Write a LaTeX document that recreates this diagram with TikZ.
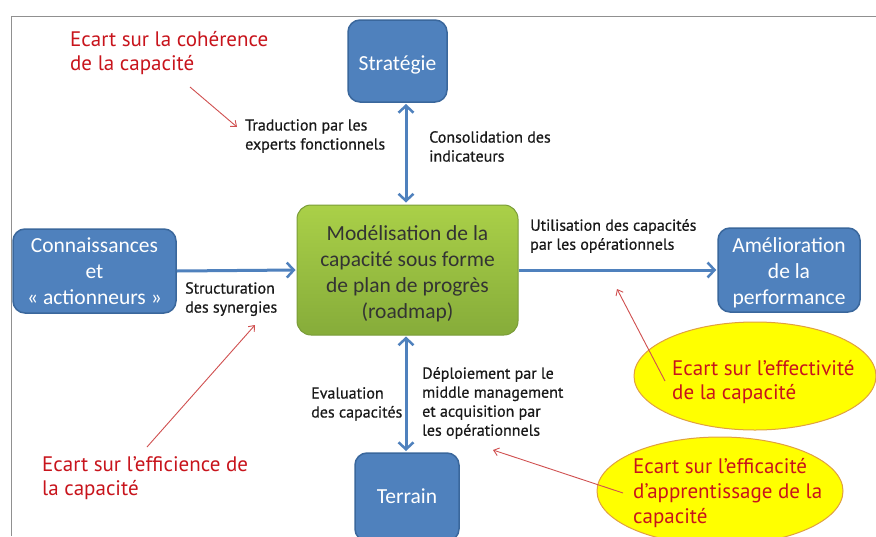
\documentclass[tikz,border=0pt]{standalone}
\usepackage{fontspec}
\setmainfont{Carlito}
\newfontfamily\gill{PT Sans}
\newfontfamily\gillb{PT Sans}[FakeBold=0.5]
\usetikzlibrary{arrows.meta,shapes.geometric}
\definecolor{boxblue}{HTML}{4F81BD}
\definecolor{boxedge}{HTML}{3A679C}
\definecolor{greentop}{HTML}{AAD048}
\definecolor{greenbot}{HTML}{86AC3A}
\definecolor{greenedge}{HTML}{7A9C38}
\definecolor{redtxt}{HTML}{C8141C}
\definecolor{redline}{HTML}{D05050}
\definecolor{ellfill}{HTML}{FFFF00}
\definecolor{elledge}{HTML}{E0A040}
\definecolor{framegray}{HTML}{909090}
\tikzset{
  bluebox/.style={draw=boxedge, line width=1.5pt, fill=boxblue, rounded corners=12pt, inner sep=0pt},
  bluetext/.style={text=white, align=center, inner sep=0pt, font=\fontsize{21.5}{26}\selectfont},
  greenbox/.style={draw=greenedge, line width=1pt, top color=greentop, bottom color=greenbot,
    rounded corners=14pt, inner sep=0pt},
  greentext/.style={text=black!80, align=center, inner sep=0pt, font=\fontsize{21.5}{26}\selectfont},
  lbl/.style={align=left, inner sep=0pt, anchor=north west, text=black!90,
    font=\gillb\fontsize{16}{19}\selectfont},
  redlbl/.style={align=left, inner sep=0pt, anchor=north west, text=redtxt,
    font=\gill\fontsize{21}{24.5}\selectfont},
  bluearrow/.style={draw=boxblue, line width=3pt,
    arrows={Straight Barb[length=7pt,width=15pt,line width=2.5pt]-Straight Barb[length=7pt,width=15pt,line width=2.5pt]}},
  bluearrowone/.style={draw=boxblue, line width=3pt,
    arrows={-Straight Barb[length=7pt,width=15pt,line width=2.5pt]}},
  redarrow/.style={draw=redline, line width=0.9pt, -{Straight Barb[length=5pt,width=8pt]}},
  gapell/.style={ellipse, draw=elledge, line width=1pt, fill=ellfill, inner sep=0pt},
}
\begin{document}
\begin{tikzpicture}[x=1pt,y=-1pt]
\useasboundingbox (0,0) rectangle (876,536);
\fill[white] (0,0) rectangle (876,536);
\draw[framegray, line width=1pt] (11,536) -- (11,16) -- (876,16);

% ellipses first (behind)
\node[gapell, minimum width=242pt, minimum height=108pt] (ell1) at (755,376) {};
\node[gapell, minimum width=246pt, minimum height=108pt] (ell2) at (720,491) {};

% boxes
\node[bluebox, minimum width=99pt, minimum height=82pt] (strat) at (397.5,61) {};
\node[bluetext] (strattxt) at (397.5,65) {Stratégie};
\node[greenbox, minimum width=221pt, minimum height=130pt] (model) at (407.5,270) {};
\node[greentext] (modeltxt) at (407.5,273.5)
  {Modélisation de la\\capacité sous forme\\de plan de progrès\\(roadmap)};
\node[bluebox, minimum width=163pt, minimum height=84pt] (conn) at (94.5,271) {};
\node[bluetext] (conntxt) at (94.5,271.5) {Connaissances\\et\\« actionneurs »};
\node[bluebox, minimum width=142pt, minimum height=84pt] (amel) at (789,270) {};
\node[bluetext] (ameltxt) at (789,273) {Amélioration\\de la\\performance};
\node[bluebox, minimum width=104pt, minimum height=88pt] (terr) at (407,497) {};
\node[bluetext] (terrtxt) at (407,496.5) {Terrain};

% blue arrows
\draw[bluearrow, shorten >=1pt, shorten <=3pt] ([yshift=-1pt]model.north -| 406,0) -- (406,103) coordinate (stratfoot);
\draw[bluearrow, shorten >=1pt, shorten <=2pt] ([yshift=1pt]model.south -| 406,0) -- (406,452) coordinate (terrtop);
\draw[bluearrowone, shorten >=1pt] (conn.east) -- (model.west);
\draw[bluearrowone, shorten >=1pt] (model.east) -- (amel.west);

% labels
\node[lbl] (trad) at (245,119) {Traduction par les\\experts fonctionnels};
\node[lbl] (conso) at (429,131) {Consolidation des\\indicateurs};
\node[lbl] (struct) at (185,282) {Structuration\\des synergies};
\node[lbl] (util) at (530,219) {Utilisation des capacités\\par les opérationnels};
\node[lbl] (eval) at (311,387) {Evaluation\\des capacités};
\node[lbl] (deploi) at (422,367) {Déploiement par le\\middle management\\et acquisition par\\les opérationnels};

% red texts
\node[redlbl] (coh) at (70,31) {Ecart sur la cohérence\\de la capacité};
\node[redlbl] (effic) at (42,456) {Ecart sur l’efficience de\\la capacité};
\node[redlbl] (effec) at (672,360) {Ecart sur l’effectivité\\de la capacité};
\node[redlbl, font=\gill\fontsize{21}{25}\selectfont] (effca) at (633,458) {Ecart sur l’efficacité\\d’apprentissage de la\\capacité};

% red arrows
\coordinate (r1a) at (190,87);  \coordinate (r1b) at (237,127);
\coordinate (r2a) at (147,447); \coordinate (r2b) at (255,325);
\coordinate (r3a) at (665,381); \coordinate (r3b) at (617,289);
\coordinate (r4a) at (623,493); \coordinate (r4b) at (493,450);
\draw[redarrow] (r1a) -- (r1b);
\draw[redarrow] (r2a) -- (r2b);
\draw[redarrow] (r3a) -- (r3b);
\draw[redarrow] (r4a) -- (r4b);
\end{tikzpicture}
\end{document}
